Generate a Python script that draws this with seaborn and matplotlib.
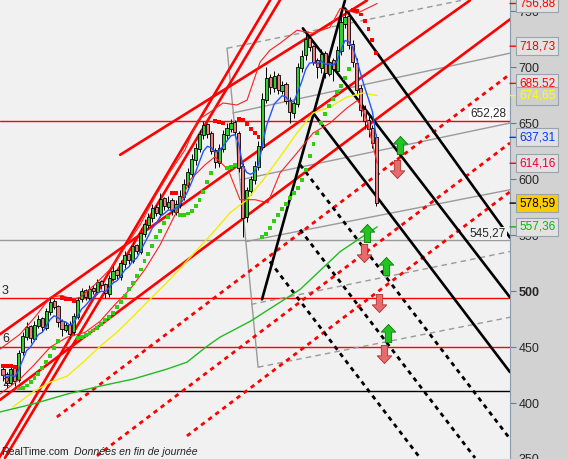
import numpy as np
import pandas as pd
import matplotlib
matplotlib.use('Agg')
import matplotlib.pyplot as plt
import matplotlib.transforms as mtransforms
import seaborn as sns

# daily candles (bar number = position on x axis)
open_ = [430, 426, 418, 431, 421, 446, 459, 469, 457, 469,
         476, 467, 481, 491, 487, 473, 465, 471, 463, 477,
         493, 501, 494, 503, 499, 509, 506, 497, 511, 519,
         513, 524, 533, 527, 541, 535, 551, 559, 565, 575,
         569, 583, 575, 581, 571, 577, 584, 595, 605, 617,
         627, 639, 649, 641, 626, 614, 627, 639, 645, 651,
         641, 612, 566, 589, 599, 611, 629, 671, 691, 681,
         693, 679, 685, 671, 659, 667, 699, 711, 726, 719,
         706, 699, 713, 694, 706, 697, 714, 739, 746, 721,
         704, 681, 663, 653, 646, 638]
close = [425, 418, 430, 420, 445, 460, 468, 458, 470, 475,
         468, 482, 490, 486, 472, 466, 470, 462, 478, 492,
         500, 495, 502, 500, 508, 505, 498, 512, 518, 514,
         525, 532, 528, 540, 536, 552, 560, 566, 574, 570,
         582, 576, 580, 572, 578, 585, 596, 606, 618, 628,
         640, 648, 640, 625, 615, 628, 640, 646, 650, 642,
         610, 565, 590, 600, 612, 630, 672, 690, 682, 692,
         680, 684, 670, 660, 668, 700, 710, 725, 718, 705,
         700, 712, 695, 705, 698, 715, 740, 745, 720, 705,
         680, 662, 652, 645, 632, 578.59]
high = [433, 428, 432, 432, 447, 463, 472, 470, 473, 479,
        477, 485, 494, 493, 488, 475, 472, 473, 480, 495,
        503, 502, 505, 505, 511, 510, 507, 514, 522, 520,
        528, 536, 534, 544, 542, 556, 564, 570, 578, 577,
        588, 584, 585, 583, 581, 590, 600, 610, 622, 632,
        644, 652, 650, 643, 628, 631, 644, 650, 654, 653,
        643, 614, 593, 603, 616, 634, 677, 700, 694, 697,
        695, 688, 687, 673, 670, 704, 715, 730, 728, 720,
        708, 716, 714, 708, 708, 719, 745, 751, 748, 724,
        708, 684, 666, 656, 648, 640]
low = [420, 413, 416, 415, 419, 443, 456, 454, 455, 467,
       464, 465, 479, 484, 468, 460, 463, 458, 461, 475,
       490, 492, 492, 497, 497, 502, 494, 495, 509, 511,
       510, 521, 524, 525, 533, 533, 548, 556, 562, 567,
       566, 572, 573, 568, 568, 574, 581, 592, 602, 613,
       624, 636, 637, 622, 610, 611, 624, 636, 642, 639,
       606, 548, 562, 586, 596, 608, 626, 668, 676, 678,
       676, 676, 667, 650, 655, 664, 696, 706, 714, 702,
       690, 695, 690, 692, 688, 694, 711, 735, 716, 700,
       676, 656, 645, 638, 628, 576]

# indicator curves (bar, price)
upper_band_bar = [-0.8, 4.3, 8.1, 12.0, 15.0, 17.6, 19.6, 23.4, 27.2, 31.0, 34.9, 38.7, 42.5, 46.3,
                  49.6, 52.7, 56.0, 59.5, 62.1, 65.4, 67.9, 70.5, 74.8, 78.9, 83.2, 85.8, 90.1, 95.2]
upper_band = [448.1, 461.4, 476.6, 494.4, 496.1, 492.6, 494.4, 505.9, 519.3, 538.9, 559.3, 584.3, 606.5, 626.1,
              652.8, 659.9, 668.0, 666.2, 670.6, 704.5, 715.1, 721.4, 733.0, 730.3, 735.6, 752.5, 748.1, 756.88]
lower_band_bar = [-0.8, 4.3, 7.6, 12.0, 16.3, 20.9, 24.7, 28.5, 32.3, 36.1, 40.0, 43.8, 47.6, 51.4,
                  53.9, 57.3, 60.3, 64.1, 67.4, 70.5, 74.8, 78.9, 83.2, 87.5, 90.3, 92.6, 95.2]
lower_band = [408.0, 421.4, 432.9, 449.9, 458.8, 463.2, 473.0, 488.1, 501.5, 519.3, 541.5, 568.3, 599.4, 612.8,
              619.9, 608.3, 581.6, 581.6, 578.9, 605.6, 623.4, 641.2, 650.1, 663.5, 670.6, 652.8, 614.16]
yellow_bar = [2.5, 7.6, 12.0, 16.3, 20.4, 24.7, 29.0, 33.1, 37.4, 41.7, 47.6, 53.4, 57.8, 62.1,
              66.2, 70.5, 74.8, 78.9, 83.2, 87.5, 91.6, 95.2]
yellow_ma = [396.4, 409.8, 418.7, 424.0, 436.5, 450.7, 463.2, 477.4, 492.6, 507.7, 530.0, 552.2, 570.0, 581.6,
             599.4, 619.9, 641.2, 659.1, 664.4, 673.3, 676.9, 674.65]
green_bar = [-0.8, 7.6, 16.3, 24.7, 33.1, 41.7, 46.8, 51.9, 55.2, 62.9, 75.6, 85.8, 95.2]
green_ma = [392.0, 399.1, 408.0, 415.1, 421.4, 430.3, 436.5, 450.7, 458.8, 473.0, 501.5, 535.3, 557.36]

# trend lines: [bar start, bar end], [price start, price end]
red_solid_bars = [[-1, 68], [0.5, 70.5], [-0.8, 118.8], [-0.8, 129], [29.8, 92.6]]
red_solid_prices = [[351, 760], [351, 760], [461.4, 759.6], [402.7, 742.7], [621.7, 759.6]]
red_dash_bars = [[13.7, 129], [23.9, 129], [46.8, 129]]
red_dash_prices = [[387.5, 693.8], [352.8, 632.3], [370.6, 588.7]]
black_solid_bars = [[65.9, 87.0], [87.0, 129], [76.3, 129], [78.9, 129]]
black_solid_prices = [[492.6, 759.6], [752.5, 547.8], [734.7, 494.4], [659.1, 427.6]]
black_dash_bars = [[75.6, 129], [75.6, 120.1], [67.9, 106.1]]
black_dash_prices = [[612.8, 368.0], [554.9, 351.0], [526.4, 351.0]]
gray_solid_bars = [[57.0, 64.9], [58.5, 129], [60.3, 129], [61.8, 129]]
gray_solid_prices = [[716.9, 432.0], [659.1, 712.5], [599.4, 650.1], [544.2, 590.5]]
gray_dash_bars = [[57.0, 129], [63.1, 129], [64.9, 129]]
gray_dash_prices = [[716.9, 768.5], [488.1, 535.3], [432.0, 476.6]]

# horizontal levels
red_levels = [652.28, 493.5, 450.0]
black_levels = [410.7]
gray_levels = [545.27]

# signal arrows
up_arrow_bar = [101.0, 92.6, 97.5, 98.0]
up_arrow_price = [630.6, 552.2, 522.0, 462.3]
down_arrow_bar = [100.3, 91.9, 95.7, 96.9]
down_arrow_price = [609.2, 534.4, 489.0, 443.6]

# last values shown on the right scale
tag_values = [756.88, 718.73, 685.52, 674.65, 637.31, 614.16, 578.59, 557.36]
tag_colors = ['#ff0000', '#ff0000', '#ff0000', '#ffff00', '#0033ff', '#ee0033', '#000000', '#00bb00']
tag_faces = ['#e2e2e2', '#e2e2e2', '#e2e2e2', '#cfcfcf', '#e2e2e2', '#e2e2e2', '#ffcc00', '#e2e2e2']
y_ticks = [350, 400, 450, 500, 550, 600, 650, 700, 750]


def parabolic_sar(hi, lo, step=0.02, max_af=0.2):
    n = len(hi)
    sar = np.zeros(n)
    trend = np.zeros(n, dtype=int)
    up = False
    af = step
    ep = lo[0]
    sar[0] = hi[0]
    trend[0] = -1
    for i in range(1, n):
        s = sar[i - 1] + af * (ep - sar[i - 1])
        if up:
            s = min(s, lo[i - 1], lo[max(i - 2, 0)])
            if lo[i] < s:
                up, s, ep, af = False, ep, lo[i], step
            elif hi[i] > ep:
                ep = hi[i]
                af = min(af + step, max_af)
        else:
            s = max(s, hi[i - 1], hi[max(i - 2, 0)])
            if hi[i] > s:
                up, s, ep, af = True, ep, hi[i], step
            elif lo[i] < ep:
                ep = lo[i]
                af = min(af + step, max_af)
        sar[i] = s
        trend[i] = 1 if up else -1
    return sar, trend


df = pd.DataFrame({'open': open_, 'high': high, 'low': low, 'close': close})
df['bar'] = np.arange(len(df))
df['ema'] = df['close'].ewm(span=6, adjust=False).mean()
df['sar'], df['trend'] = parabolic_sar(df['high'].values, df['low'].values)

sns.set_style('white')
plt.rcParams['font.family'] = ['Liberation Sans', 'DejaVu Sans']

fig = plt.figure(figsize=(5.68, 4.59), dpi=100, facecolor='#d2d2d2')
ax = fig.add_axes([0, 0, 510 / 568, 1])
ax.set_facecolor('#f1f1f1')
trans = mtransforms.blended_transform_factory(ax.transAxes, ax.transData)

# horizontal levels
for lv in red_levels:
    ax.axhline(lv, color='#ff0000', lw=1, zorder=1)
for lv in black_levels:
    ax.axhline(lv, color='black', lw=1, zorder=1)
for lv in gray_levels:
    ax.axhline(lv, color='#9a9a9a', lw=1, zorder=1)

# trend lines
for bx, py in zip(gray_solid_bars, gray_solid_prices):
    ax.plot(bx, py, color='#9a9a9a', lw=1, zorder=1)
for bx, py in zip(gray_dash_bars, gray_dash_prices):
    ax.plot(bx, py, color='#9a9a9a', lw=1, ls=(0, (4, 3)), zorder=1)
for bx, py in zip(red_solid_bars, red_solid_prices):
    ax.plot(bx, py, color='#ff0000', lw=1.9, zorder=2)
for bx, py in zip(red_dash_bars, red_dash_prices):
    ax.plot(bx, py, color='#ff0000', lw=2, ls=(0, (1.6, 1.6)), zorder=2)
for bx, py in zip(black_solid_bars, black_solid_prices):
    ax.plot(bx, py, color='black', lw=1.9, zorder=2)
for bx, py in zip(black_dash_bars, black_dash_prices):
    ax.plot(bx, py, color='black', lw=2, ls=(0, (1.6, 1.6)), zorder=2)

# candles
is_up = df['close'] >= df['open']
ax.vlines(df['bar'], df['low'], df['high'], color='black', lw=0.7, zorder=3)
ax.bar(df['bar'], (df['close'] - df['open']).abs(),
       bottom=df[['open', 'close']].min(axis=1), width=0.8,
       color=np.where(is_up, '#33cc33', '#ec8080'), edgecolor='black', linewidth=0.6, zorder=3)

# moving averages and bands
sns.lineplot(x=green_bar, y=green_ma, color='#22bb22', lw=1, ax=ax, sort=False, zorder=4)
sns.lineplot(x=yellow_bar, y=yellow_ma, color='#f2ee00', lw=1, ax=ax, sort=False, zorder=4)
sns.lineplot(x=upper_band_bar, y=upper_band, color='#ff2020', lw=0.8, ax=ax, sort=False, zorder=4)
sns.lineplot(x=lower_band_bar, y=lower_band, color='#ff2020', lw=0.8, ax=ax, sort=False, zorder=4)
sns.lineplot(data=df, x='bar', y='ema', color='#2255ff', lw=1, ax=ax, zorder=4)

# parabolic SAR
sns.scatterplot(data=df, x='bar', y='sar', hue='trend', palette={1: '#33cc11', -1: '#ff0000'},
                marker='s', s=8, linewidth=0, legend=False, ax=ax, zorder=5)

# signal arrows
up_verts = [(0, 1), (0.8, 0.15), (0.35, 0.15), (0.35, -1), (-0.35, -1), (-0.35, 0.15), (-0.8, 0.15), (0, 1)]
down_verts = [(x, -y) for x, y in up_verts]
ax.scatter(up_arrow_bar, up_arrow_price, marker=up_verts, s=170, color='#22c422',
           edgecolor='#0a7a0a', linewidth=0.6, zorder=6)
ax.scatter(down_arrow_bar, down_arrow_price, marker=down_verts, s=170, color='#e86a6a',
           edgecolor='#b03030', linewidth=0.6, zorder=6)

# axes
ax.set_xlim(-0.77, 129)
ax.set_ylim(351, 760)
ax.set_xticks([])
ax.set_xlabel('')
ax.set_ylabel('')
ax.yaxis.tick_right()
ax.set_yticks(y_ticks)
ax.set_yticklabels([str(t) for t in y_ticks], fontsize=9)
for lbl in ax.get_yticklabels():
    if lbl.get_text() == '500':
        lbl.set_fontweight('bold')
ax.tick_params(axis='y', length=4, width=0.8, color='#6a7a88', pad=2)
for side in ['left', 'top', 'bottom']:
    ax.spines[side].set_visible(False)
ax.spines['right'].set_color('#8a9aa8')

# level labels
ax.text(0.992, 652.28 + 0.8, '652,28', transform=trans, ha='right', va='bottom', fontsize=8.5,
        bbox=dict(boxstyle='square,pad=0.05', fc='white', ec='none'), zorder=7)
ax.text(0.992, 545.27 + 0.8, '545,27', transform=trans, ha='right', va='bottom', fontsize=8.5,
        bbox=dict(boxstyle='square,pad=0.05', fc='#f1f1f1', ec='none'), zorder=7)
for lv, txt in zip([493.5, 450.0, 410.7], ['3', '6', '2']):
    ax.text(0.004, lv + 1.5, txt, transform=trans, ha='left', va='bottom', fontsize=9, zorder=7)

# last value tags on the right scale
for v, c, fc in zip(tag_values, tag_colors, tag_faces):
    ax.annotate(f'{v:.2f}'.replace('.', ','), xy=(1, v), xycoords=trans,
                xytext=(9, 0), textcoords='offset pixels', ha='left', va='center',
                fontsize=8.5, color=c, annotation_clip=False, zorder=8,
                bbox=dict(boxstyle='square,pad=0.25', fc=fc, ec='#9aa4ae', lw=0.8),
                arrowprops=dict(arrowstyle='-', color=c, lw=1, shrinkA=0, shrinkB=0))

fig.text(0.002, 0.008, 'RealTime.com', fontsize=7.6, color='#222222')
fig.text(74 / 568, 0.008, 'Données en fin de journée', fontsize=7.6, style='italic', color='#222222')

fig.savefig('out.png', dpi=100, facecolor=fig.get_facecolor())
